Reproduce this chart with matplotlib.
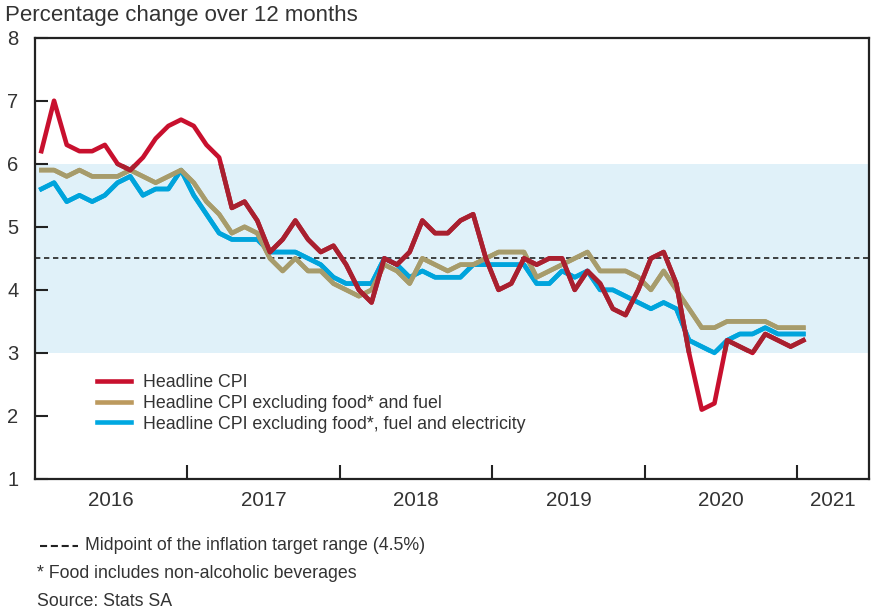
import numpy as np
import matplotlib
matplotlib.use('Agg')
import matplotlib.pyplot as plt
from matplotlib.patches import Rectangle
from matplotlib.lines import Line2D

# Monthly year-on-year rates, Jan 2016 - Jan 2021
headline = [6.2, 7.0, 6.3, 6.2, 6.2, 6.3, 6.0, 5.9, 6.1, 6.4, 6.6, 6.7,
            6.6, 6.3, 6.1, 5.3, 5.4, 5.1, 4.6, 4.8, 5.1, 4.8, 4.6, 4.7,
            4.4, 4.0, 3.8, 4.5, 4.4, 4.6, 5.1, 4.9, 4.9, 5.1, 5.2, 4.5,
            4.0, 4.1, 4.5, 4.4, 4.5, 4.5, 4.0, 4.3, 4.1, 3.7, 3.6, 4.0,
            4.5, 4.6, 4.1, 3.0, 2.1, 2.2, 3.2, 3.1, 3.0, 3.3, 3.2, 3.1,
            3.2]
ex_food_fuel = [5.9, 5.9, 5.8, 5.9, 5.8, 5.8, 5.8, 5.9, 5.8, 5.7, 5.8, 5.9,
                5.7, 5.4, 5.2, 4.9, 5.0, 4.9, 4.5, 4.3, 4.5, 4.3, 4.3, 4.1,
                4.0, 3.9, 4.0, 4.4, 4.3, 4.1, 4.5, 4.4, 4.3, 4.4, 4.4, 4.5,
                4.6, 4.6, 4.6, 4.2, 4.3, 4.4, 4.5, 4.6, 4.3, 4.3, 4.3, 4.2,
                4.0, 4.3, 4.0, 3.7, 3.4, 3.4, 3.5, 3.5, 3.5, 3.5, 3.4, 3.4,
                3.4]
ex_food_fuel_elec = [5.6, 5.7, 5.4, 5.5, 5.4, 5.5, 5.7, 5.8, 5.5, 5.6, 5.6, 5.9,
                     5.5, 5.2, 4.9, 4.8, 4.8, 4.8, 4.6, 4.6, 4.6, 4.5, 4.4, 4.2,
                     4.1, 4.1, 4.1, 4.5, 4.4, 4.2, 4.3, 4.2, 4.2, 4.2, 4.4, 4.4,
                     4.4, 4.4, 4.4, 4.1, 4.1, 4.3, 4.2, 4.3, 4.0, 4.0, 3.9, 3.8,
                     3.7, 3.8, 3.7, 3.2, 3.1, 3.0, 3.2, 3.3, 3.3, 3.4, 3.3, 3.3,
                     3.3]
years = ['2016', '2017', '2018', '2019', '2020', '2021']
labels = ['Headline CPI',
          'Headline CPI excluding food* and fuel',
          'Headline CPI excluding food*, fuel and electricity']

target_low, target_high, target_mid = 3, 6, 4.5

plt.rcParams['font.family'] = ['Liberation Sans', 'DejaVu Sans']
TXT = '#333333'
W, H = 873, 611

fig = plt.figure(figsize=(W / 100, H / 100), dpi=100)
ax = fig.add_axes([35 / W, 1 - 479 / H, 834 / W, (479 - 37.7) / H])

XMAX = 65.67
x = np.arange(len(headline)) + 0.5

ax.axhspan(target_low, target_high, color='#E0F1F9', lw=0, zorder=0)
ax.axhline(target_mid, color='#222222', lw=1.2, ls=(0, (3.2, 2.2)), zorder=1)

# (base colour, colour inside the target band)
styles = [
    (ex_food_fuel_elec, '#00A8E1', '#00A4DC', 2),
    (ex_food_fuel, '#BC9A5E', '#A69C6C', 3),
    (headline, '#C8102E', '#A8202F', 4),
]
handles = {}
for vals, c_out, c_in, z in styles:
    base, = ax.plot(x, vals, color=c_out, lw=3.3, zorder=z)
    inner, = ax.plot(x, vals, color=c_in, lw=3.3, zorder=z + 0.5)
    inner.set_clip_path(Rectangle((0, target_low), XMAX, target_high - target_low,
                                  transform=ax.transData))
    handles[z] = base

ax.set_xlim(0, XMAX)
ax.set_ylim(1, 8)

ax.set_xticks([12, 24, 36, 48, 60])
ax.set_xticks([6, 18, 30, 42, 54, (60 + XMAX) / 2], minor=True)
ax.set_xticklabels(years, minor=True)
ax.tick_params(axis='x', which='major', direction='in', length=10, width=1.5,
               color='#222222', labelbottom=False)
ax.tick_params(axis='x', which='minor', length=0, pad=9, labelsize=14.8,
               labelcolor=TXT)
ax.set_yticks(range(1, 9))
ax.tick_params(axis='y', direction='in', length=9.5, width=1.5, color='#222222',
               pad=12, labelsize=14.5, labelcolor=TXT)
for s in ax.spines.values():
    s.set_linewidth(1.6)
    s.set_color('#222222')

leg = ax.legend([handles[4], handles[3], handles[2]], labels,
                loc='upper left', bbox_to_anchor=(0.0743, 0.237),
                frameon=False, borderpad=0, borderaxespad=0,
                handlelength=1.9, handletextpad=0.67, labelspacing=0.2,
                fontsize=12.8)
for t in leg.get_texts():
    t.set_color(TXT)

fig.text(5 / W, 1 - 15 / H, 'Percentage change over 12 months',
         va='center', ha='left', fontsize=16, color=TXT)

fig.add_artist(Line2D([40 / W, 78 / W], [1 - 546 / H, 1 - 546 / H],
                      transform=fig.transFigure, color='#222222', lw=1.5,
                      ls=(0, (3.4, 1.8))))
fig.text(85 / W, 1 - 546 / H, 'Midpoint of the inflation target range (4.5%)',
         va='center', ha='left', fontsize=12.8, color=TXT)
fig.text(37 / W, 1 - 574 / H, '* Food includes non-alcoholic beverages',
         va='center', ha='left', fontsize=12.8, color=TXT)
fig.text(37 / W, 1 - 601 / H, 'Source: Stats SA',
         va='center', ha='left', fontsize=12.8, color=TXT)

fig.savefig('out.png', dpi=100)
